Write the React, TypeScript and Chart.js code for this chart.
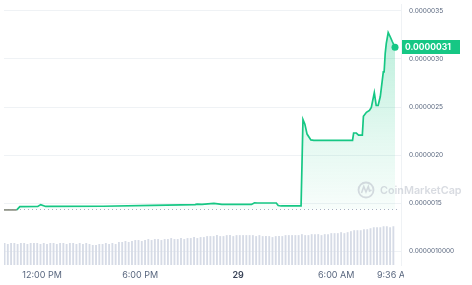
import React, { useEffect, useRef } from "react";
import { Chart, registerables } from "chart.js";

Chart.register(...registerables);

// Price line: minutes since 9:36 AM of the previous day, and price in USD
const LINE_TIMES = [
  0, 51, 62, 128, 139, 157, 368, 549, 706, 713,
  731, 775, 804, 913, 924, 935, 1004, 1011, 1022, 1088,
  1095, 1102, 1109, 1117, 1131, 1142, 1284, 1288, 1298, 1306,
  1320, 1324, 1335, 1346, 1353, 1364, 1371, 1378, 1386, 1397,
  1400, 1404, 1408, 1415, 1422, 1430, 1440,
];
const LINE_VALUES = [
  1.430e-6, 1.430e-6, 1.464e-6, 1.466e-6, 1.485e-6, 1.466e-6, 1.468e-6, 1.478e-6, 1.485e-6, 1.490e-6,
  1.487e-6, 1.497e-6, 1.487e-6, 1.487e-6, 1.504e-6, 1.502e-6, 1.502e-6, 1.476e-6, 1.471e-6, 1.471e-6,
  1.471e-6, 2.370e-6, 2.322e-6, 2.219e-6, 2.158e-6, 2.153e-6, 2.153e-6, 2.230e-6, 2.230e-6, 2.209e-6,
  2.209e-6, 2.404e-6, 2.445e-6, 2.465e-6, 2.496e-6, 2.650e-6, 2.516e-6, 2.516e-6, 2.609e-6, 2.865e-6,
  2.865e-6, 3.059e-6, 3.162e-6, 3.275e-6, 3.234e-6, 3.182e-6, 3.121e-6,
];
const OPEN_PRICE = 1.436e-6;

// Volume bars (relative units), one every 12 minutes
const VOLUMES = [
  22, 21, 22, 22, 21, 22, 22, 21, 22, 22, 22, 21, 22, 21, 22, 22, 21, 22, 22, 21, 22, 22, 21, 22, 21, 22, 21,
  20, 20, 21,
  21, 22, 21, 22, 21,
  23, 23, 24, 23, 24,
  25, 25, 24, 25, 26, 25,
  26, 26, 25, 26, 26, 27, 26, 26, 27, 26, 27, 27, 28, 27, 28,
  28, 29, 29, 29, 30, 29, 29, 30, 30, 29, 30, 30,
  30, 30, 30, 30, 29, 30,
  29, 29, 29, 28, 29, 29, 29, 30, 30,
  30, 30, 30, 31, 30, 30, 31, 31, 31, 30, 31, 31,
  32, 32, 32, 33, 32, 33,
  34, 35, 35, 35, 36, 36,
  37, 38, 38, 38, 39, 39, 38, 39,
];
const VOLUME_TIMES = VOLUMES.map((_, i) => 6 + 12 * i);

const X_TICKS = [144, 504, 864, 1224, 1440];
const X_TICK_LABELS = ["12:00 PM", "6:00 PM", "29", "6:00 AM", "9:36 AM"];
const Y_TICKS = [1.0e-6, 1.5e-6, 2.0e-6, 2.5e-6, 3.0e-6, 3.5e-6];

const X_MIN = 4;
const X_MAX = 1462;
const Y_MIN = 0.857e-6;
const Y_MAX = 3.572e-6;
const VOL_MAX = 265;

const GREEN = "#16c784";
const GREY_LINE = "#8c9084";
const FONT = "Inter, 'Noto Sans', sans-serif";

const fmtY = (v: number) => {
  const r = Math.round(v * 1e8) / 1e8;
  if (Math.abs(r - 1e-6) < 1e-12) return r.toFixed(10);
  return r.toFixed(7);
};

const overlayPlugin = {
  id: "overlay",
  beforeDatasetsDraw(chart: any) {
    const { ctx, chartArea, scales } = chart;
    const y = scales.y.getPixelForValue(OPEN_PRICE);
    ctx.save();
    ctx.strokeStyle = "#a9b1c1";
    ctx.lineWidth = 1;
    ctx.setLineDash([1, 3]);
    ctx.beginPath();
    ctx.moveTo(chartArea.left, Math.round(y) + 0.5);
    ctx.lineTo(chartArea.right - 4, Math.round(y) + 0.5);
    ctx.stroke();
    ctx.restore();
  },
  afterDatasetsDraw(chart: any) {
    const { ctx } = chart;
    // watermark
    ctx.save();
    ctx.globalAlpha = 0.55;
    ctx.strokeStyle = "#b8bec9";
    ctx.fillStyle = "#b8bec9";
    ctx.lineWidth = 1.8;
    ctx.beginPath();
    ctx.arc(366, 190, 7.5, 0, Math.PI * 2);
    ctx.stroke();
    ctx.lineWidth = 1.6;
    ctx.beginPath();
    ctx.moveTo(361.5, 193);
    ctx.lineTo(363.8, 186.5);
    ctx.lineTo(366, 192);
    ctx.lineTo(368.3, 186.5);
    ctx.lineTo(369.5, 191);
    ctx.lineTo(371.5, 190);
    ctx.stroke();
    ctx.font = `600 10.8px ${FONT}`;
    ctx.textAlign = "left";
    ctx.textBaseline = "middle";
    ctx.fillText("CoinMarketCap", 380, 191);
    ctx.restore();
  },
  afterDraw(chart: any) {
    const { ctx, chartArea, scales } = chart;
    // x labels
    ctx.save();
    ctx.beginPath();
    ctx.rect(0, chartArea.bottom, 404, 30);
    ctx.clip();
    ctx.textAlign = "center";
    ctx.textBaseline = "middle";
    X_TICKS.forEach((t, i) => {
      const x = scales.x.getPixelForValue(t);
      const isDay = X_TICK_LABELS[i] === "29";
      ctx.fillStyle = isDay ? "#3a4458" : "#58667e";
      ctx.font = `${isDay ? "600 " : ""}9px ${FONT}`;
      ctx.fillText(X_TICK_LABELS[i], x, chartArea.bottom + 10.5);
    });
    ctx.restore();
    // current price tag
    const last = LINE_VALUES[LINE_VALUES.length - 1];
    const py = scales.y.getPixelForValue(last);
    ctx.save();
    ctx.fillStyle = GREEN;
    ctx.fillRect(402, Math.round(py) - 7, 58, 14);
    ctx.fillStyle = "#ffffff";
    ctx.font = `bold 8.5px ${FONT}`;
    ctx.textAlign = "left";
    ctx.textBaseline = "middle";
    ctx.fillText(last.toFixed(7), 405, Math.round(py) + 0.5);
    ctx.restore();
  },
};

export default function App() {
  const ref = useRef<HTMLCanvasElement | null>(null);

  useEffect(() => {
    if (!ref.current) return;
    const lastIdx = LINE_VALUES.length - 1;
    const chart = new Chart(ref.current, {
      type: "bar",
      data: {
        datasets: [
          {
            type: "line",
            label: "Price",
            data: LINE_TIMES.map((t, i) => ({ x: t, y: LINE_VALUES[i] })),
            yAxisID: "y",
            borderColor: GREEN,
            borderWidth: 1.7,
            tension: 0,
            pointRadius: (c: any) => (c.dataIndex === lastIdx ? 3.5 : 0),
            pointBackgroundColor: GREEN,
            pointBorderWidth: 0,
            fill: { value: OPEN_PRICE },
            backgroundColor: (c: any) => {
              const { chart: ch } = c;
              const area = ch.chartArea;
              if (!area) return "rgba(22,199,132,0.1)";
              const yb = ch.scales.y.getPixelForValue(OPEN_PRICE);
              const g = ch.ctx.createLinearGradient(0, area.top + 20, 0, yb);
              g.addColorStop(0, "rgba(22,199,132,0.30)");
              g.addColorStop(0.6, "rgba(22,199,132,0.12)");
              g.addColorStop(1, "rgba(22,199,132,0.03)");
              return g;
            },
            segment: {
              borderColor: (c: any) =>
                c.p0.parsed.y < OPEN_PRICE && c.p1.parsed.y < OPEN_PRICE ? GREY_LINE : GREEN,
            },
            order: 0,
          } as any,
          {
            type: "bar",
            label: "Volume",
            data: VOLUME_TIMES.map((t, i) => ({ x: t, y: VOLUMES[i] })),
            yAxisID: "vol",
            backgroundColor: "#d6dbe6",
            barThickness: 1.2,
            order: 1,
          } as any,
        ],
      },
      options: {
        animation: false,
        responsive: false,
        maintainAspectRatio: false,
        layout: { padding: 0 },
        plugins: { legend: { display: false }, tooltip: { enabled: false } },
        scales: {
          x: {
            type: "linear",
            min: X_MIN,
            max: X_MAX,
            offset: false,
            grid: { display: false },
            border: { display: false },
            ticks: { display: false },
            afterFit: (s: any) => {
              s.height = 20;
              s.paddingLeft = 0;
              s.paddingRight = 0;
            },
          },
          y: {
            position: "right",
            min: Y_MIN,
            max: Y_MAX,
            afterBuildTicks: (s: any) => {
              s.ticks = Y_TICKS.map((v) => ({ value: v }));
            },
            grid: { color: "#eff2f5", drawTicks: false, lineWidth: 1 },
            border: { display: true, color: "#eff2f5" },
            ticks: {
              padding: 8,
              color: "#58667e",
              font: { family: FONT, size: 6.5 },
              callback: (v: any) => fmtY(Number(v)),
            },
            afterFit: (s: any) => {
              s.width = 71;
              s.paddingTop = 0;
              s.paddingBottom = 0;
            },
          },
          vol: {
            display: false,
            min: 0,
            max: VOL_MAX,
          },
        },
      } as any,
      plugins: [overlayPlugin],
    });
    return () => chart.destroy();
  }, []);

  return (
    <div style={{ position: "fixed", left: 0, top: 0, width: 472, height: 285, background: "#fff" }}>
      <canvas ref={ref} width={472} height={285} style={{ display: "block" }} />
    </div>
  );
}
